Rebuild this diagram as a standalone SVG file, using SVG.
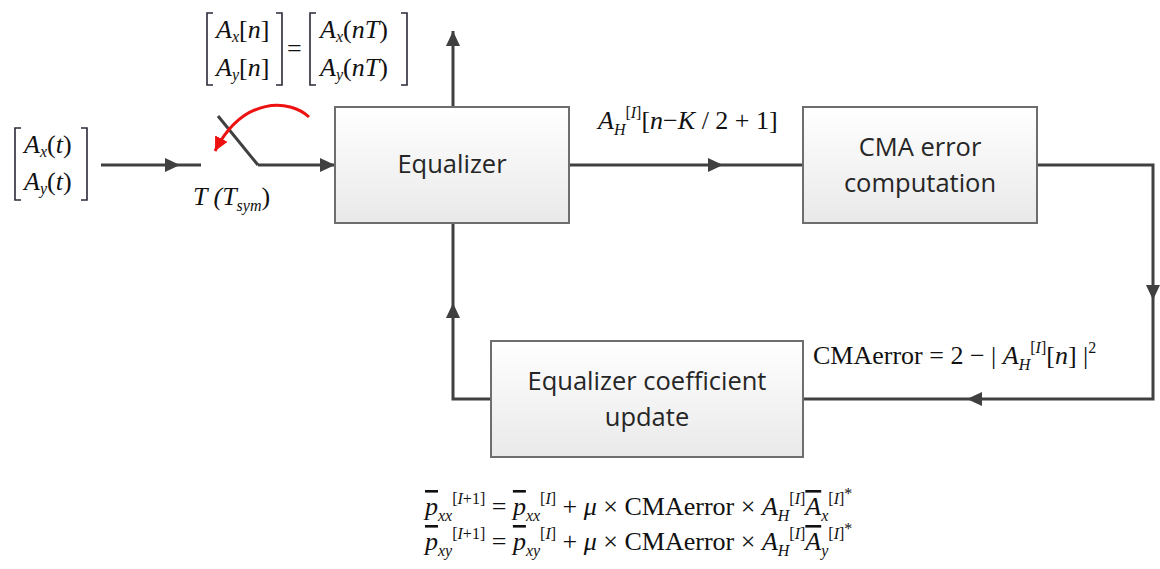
<svg xmlns="http://www.w3.org/2000/svg" width="1160" height="569" viewBox="0 0 1160 569">
  <style>
    .box { fill: url(#boxFill); stroke: #6e6e6e; stroke-width: 2; }
    .lbl { font-family: "Open Sans", "Liberation Sans", sans-serif; font-size: 25.5px; fill: #262626; text-anchor: middle; }
    .wire { fill: none; stroke: #404040; stroke-width: 3; }
    .arr { fill: none; stroke: #404040; stroke-width: 3; marker-end: url(#head); }
    .m { font-family: "Liberation Serif", "Times New Roman", serif; font-size: 26px; fill: #111; }
    .i { font-style: italic; }
    .s { font-size: 16px; }
    .brk { fill: none; stroke: #2a2a3a; stroke-width: 1.6; }
    .ob { text-decoration: overline; }
  </style>
  <defs>
    <linearGradient id="boxFill" x1="0" y1="0" x2="0" y2="1">
      <stop offset="0" stop-color="#ffffff"/>
      <stop offset="1" stop-color="#e9e9e9"/>
    </linearGradient>
    <marker id="head" markerUnits="userSpaceOnUse" markerWidth="16" markerHeight="14" refX="15" refY="7" orient="auto">
      <path d="M0,0 L15,7 L0,14 z" fill="#404040"/>
    </marker>
    <marker id="redHead" markerUnits="userSpaceOnUse" markerWidth="16" markerHeight="14" refX="14" refY="7" orient="auto">
      <path d="M0,0 L14,7 L0,14 z" fill="#ee1111"/>
    </marker>
  </defs>

  <!-- connectors -->
  <g id="connectors">
    <!-- analog input into the sampler -->
    <path class="arr" d="M101,165 H180"/>
    <path class="wire" d="M180,165 H201"/>
    <!-- sampler blade -->
    <path class="wire" d="M218,116 L258,165"/>
    <path class="arr" d="M258,165 H335"/>
    <!-- rotation of the sampler -->
    <path d="M309,117 C290,99 243,96 215,151" fill="none" stroke="#ee1111" stroke-width="3" marker-end="url(#redHead)"/>
    <!-- equalizer output -->
    <path class="arr" d="M453,107 V31"/>
    <!-- equalizer to CMA error -->
    <path class="arr" d="M569,165 H723"/>
    <path class="wire" d="M723,165 H803"/>
    <!-- error back to coefficient update -->
    <path class="arr" d="M1037,165 H1153 V300"/>
    <path class="arr" d="M1153,300 V399 H967"/>
    <path class="wire" d="M967,399 H803"/>
    <!-- coefficients back to equalizer -->
    <path class="arr" d="M491,399 H453 V303"/>
    <path class="wire" d="M453,303 V223"/>
  </g>

  <!-- blocks -->
  <g id="equalizer">
    <rect class="box" x="335" y="107" width="234" height="116"/>
    <text class="lbl" x="452" y="173">Equalizer</text>
  </g>
  <g id="cma-error">
    <rect class="box" x="803" y="107" width="234" height="116"/>
    <text class="lbl" x="920" y="156">CMA error</text>
    <text class="lbl" x="920" y="192">computation</text>
  </g>
  <g id="coefficient-update">
    <rect class="box" x="491" y="341" width="312" height="116"/>
    <text class="lbl" x="647" y="390">Equalizer coefficient</text>
    <text class="lbl" x="647" y="426">update</text>
  </g>

  <!-- input vector -->
  <g id="input-vector">
    <path class="brk" d="M21,128 H15 V200 H21 M81,128 H87 V200 H81"/>
    <text class="m" x="24" y="153"><tspan class="i">A</tspan><tspan class="s i" dy="4">x</tspan><tspan dy="-4">(</tspan><tspan class="i">t</tspan>)</text>
    <text class="m" x="24" y="190"><tspan class="i">A</tspan><tspan class="s i" dy="4">y</tspan><tspan dy="-4">(</tspan><tspan class="i">t</tspan>)</text>
  </g>

  <!-- sampled vector -->
  <g id="sampled-vector">
    <path class="brk" d="M213,13 H207 V85 H213 M276,13 H282 V85 H276"/>
    <text class="m" x="216" y="38"><tspan class="i">A</tspan><tspan class="s i" dy="4">x</tspan><tspan dy="-4">[</tspan><tspan class="i">n</tspan>]</text>
    <text class="m" x="216" y="76"><tspan class="i">A</tspan><tspan class="s i" dy="4">y</tspan><tspan dy="-4">[</tspan><tspan class="i">n</tspan>]</text>
    <text class="m" x="287" y="57">=</text>
    <path class="brk" d="M316,13 H310 V85 H316 M401,13 H407 V85 H401"/>
    <text class="m" x="320" y="38"><tspan class="i">A</tspan><tspan class="s i" dy="4">x</tspan><tspan dy="-4">(</tspan><tspan class="i">nT</tspan>)</text>
    <text class="m" x="320" y="76"><tspan class="i">A</tspan><tspan class="s i" dy="4">y</tspan><tspan dy="-4">(</tspan><tspan class="i">nT</tspan>)</text>
  </g>

  <!-- sampling period -->
  <text class="m i" x="193" y="205">T (T<tspan class="s" dy="6">sym</tspan><tspan dy="-6" font-style="normal">)</tspan></text>

  <!-- equalizer output sample -->
  <text class="m" x="598" y="129"><tspan class="i">A</tspan><tspan class="s i" dy="6">H</tspan><tspan class="s" dy="-17">[</tspan><tspan class="s i">I</tspan><tspan class="s">]</tspan><tspan dy="11">[</tspan><tspan class="i">n</tspan>−<tspan class="i">K</tspan> / 2 + 1]</text>

  <!-- error term -->
  <text class="m" x="813" y="364">CMAerror = 2 − | <tspan class="i">A</tspan><tspan class="s i" dy="6">H</tspan><tspan class="s" dy="-17">[</tspan><tspan class="s i">I</tspan><tspan class="s">]</tspan><tspan dy="11">[</tspan><tspan class="i">n</tspan>] |<tspan class="s" dy="-11">2</tspan></text>

  <!-- coefficient update rule -->
  <text class="m" x="425" y="515"><tspan class="i ob">p</tspan><tspan class="s i" dy="6">xx</tspan><tspan class="s" dy="-17">[</tspan><tspan class="s i">I</tspan><tspan class="s">+1]</tspan><tspan dy="11"> = </tspan><tspan class="i ob">p</tspan><tspan class="s i" dy="6">xx</tspan><tspan class="s" dy="-17">[</tspan><tspan class="s i">I</tspan><tspan class="s">]</tspan><tspan dy="11"> + </tspan><tspan class="i">μ</tspan> × CMAerror × <tspan class="i">A</tspan><tspan class="s i" dy="6">H</tspan><tspan class="s" dy="-17">[</tspan><tspan class="s i">I</tspan><tspan class="s">]</tspan><tspan class="i ob" dy="11">A</tspan><tspan class="s i" dy="6">x</tspan><tspan class="s" dy="-17">[</tspan><tspan class="s i">I</tspan><tspan class="s">]</tspan><tspan class="s" dy="-5">*</tspan></text>
  <text class="m" x="425" y="550"><tspan class="i ob">p</tspan><tspan class="s i" dy="6">xy</tspan><tspan class="s" dy="-17">[</tspan><tspan class="s i">I</tspan><tspan class="s">+1]</tspan><tspan dy="11"> = </tspan><tspan class="i ob">p</tspan><tspan class="s i" dy="6">xy</tspan><tspan class="s" dy="-17">[</tspan><tspan class="s i">I</tspan><tspan class="s">]</tspan><tspan dy="11"> + </tspan><tspan class="i">μ</tspan> × CMAerror × <tspan class="i">A</tspan><tspan class="s i" dy="6">H</tspan><tspan class="s" dy="-17">[</tspan><tspan class="s i">I</tspan><tspan class="s">]</tspan><tspan class="i ob" dy="11">A</tspan><tspan class="s i" dy="6">y</tspan><tspan class="s" dy="-17">[</tspan><tspan class="s i">I</tspan><tspan class="s">]</tspan><tspan class="s" dy="-5">*</tspan></text>
</svg>
